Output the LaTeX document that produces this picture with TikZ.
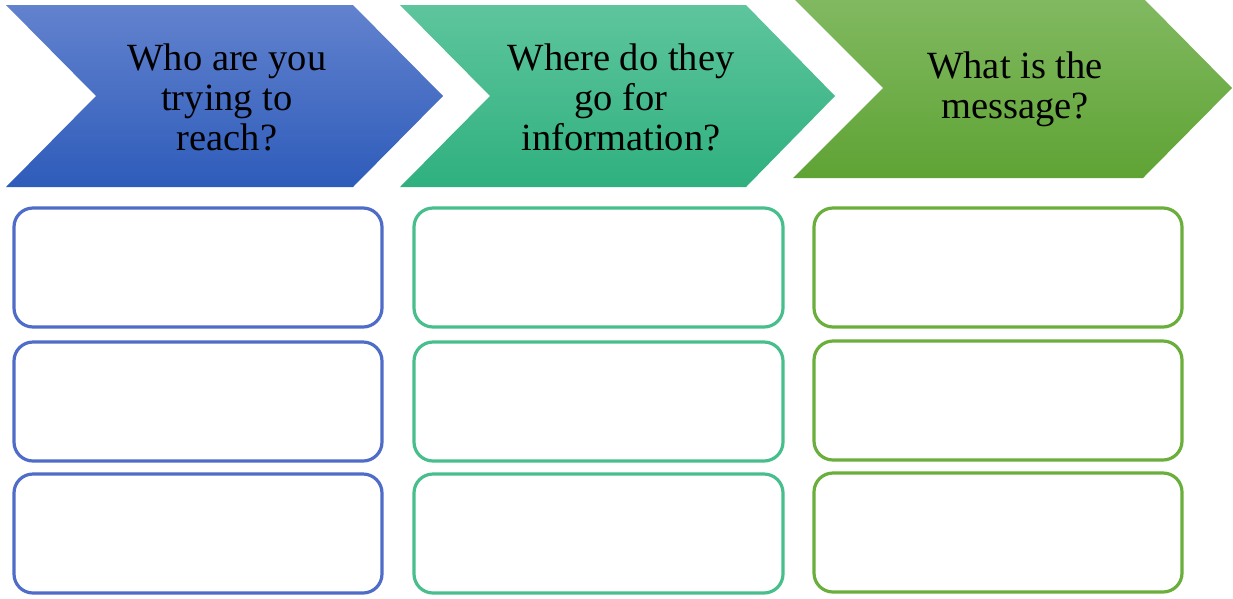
\documentclass[tikz,border=0pt]{standalone}
\usepackage{fontspec}
\setmainfont{Liberation Serif}
\usepackage{tikz}

\definecolor{bluetop}{RGB}{98,130,206}
\definecolor{bluebot}{RGB}{46,92,186}
\definecolor{tealtop}{RGB}{94,197,157}
\definecolor{tealbot}{RGB}{47,176,127}
\definecolor{greentop}{RGB}{129,185,97}
\definecolor{greenbot}{RGB}{95,163,52}
\definecolor{blueline}{RGB}{78,108,200}
\definecolor{tealline}{RGB}{72,190,140}
\definecolor{greenline}{RGB}{106,174,60}

\begin{document}
\begin{tikzpicture}[x=1pt,y=-1pt,
        heading/.style={align=center,font=\fontsize{38.5}{40}\selectfont},
        slot/.style={line width=3.2pt,rounded corners=19pt}]
        \useasboundingbox (0,0) rectangle (1233,598);

        % chevrons
        \shade [top color=bluetop,bottom color=bluebot] (6,5)--(353,5)--(443,96)--(353,187)--(6,187)--(96,96)--cycle;
        \shade [top color=tealtop,bottom color=tealbot] (400,5)--(746,5)--(835,96)--(746,187)--(400,187)--(490,96)--cycle;
        \shade [top color=greentop,bottom color=greenbot] (793,-2)--(1143,-2)--(1232,88)--(1143,178)--(793,178)--(883,88)--cycle;
        \node [heading] (who) at(227,97) {Who are you\\trying to\\reach?};
        \node [heading] (where) at(621,97) {Where do they\\go for\\information?};
        \node [heading] (what) at(1015,89) {What is the\\message?};

        % boxes
        \draw [slot,blueline] (14,208) rectangle (382,327);
        \draw [slot,blueline] (14,342) rectangle (382,461);
        \draw [slot,blueline] (14,474) rectangle (382,593);
        \draw [slot,tealline] (414,208) rectangle (783,327);
        \draw [slot,tealline] (414,342) rectangle (783,461);
        \draw [slot,tealline] (414,474) rectangle (783,593);
        \draw [slot,greenline] (814,208) rectangle (1182,327);
        \draw [slot,greenline] (814,341) rectangle (1182,460);
        \draw [slot,greenline] (814,473) rectangle (1182,592);
\end{tikzpicture}
\end{document}
